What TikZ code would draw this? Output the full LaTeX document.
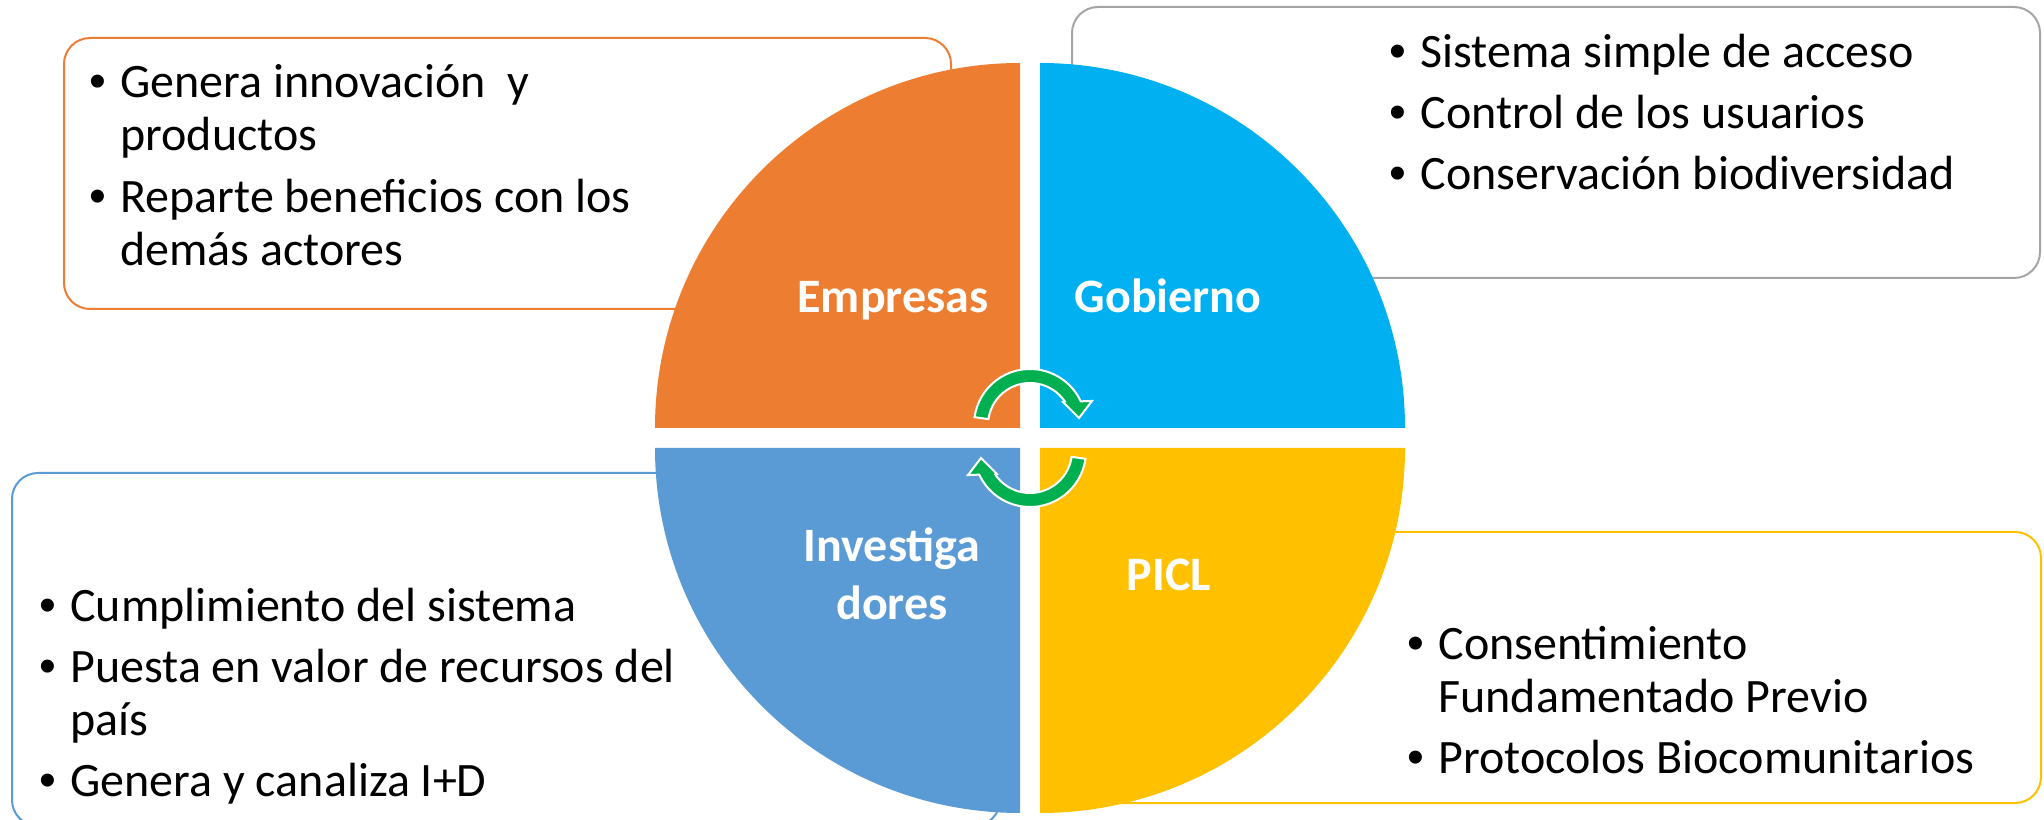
\documentclass[tikz,border=0pt]{standalone}
\usepackage{fontspec}
\setmainfont{Carlito}
\newfontfamily\bulfont{Liberation Sans}
\usepackage{tikz}
\definecolor{empOrange}{HTML}{ED7D31}
\definecolor{gobBlue}{HTML}{00B0F0}
\definecolor{invBlue}{HTML}{5B9BD5}
\definecolor{piclYellow}{HTML}{FFC000}
\definecolor{boxGray}{HTML}{A5A5A5}
\definecolor{arrGreen}{HTML}{00B050}
\newcommand{\bul}{\makebox[15.5pt][l]{\bulfont•}}
\newcommand{\ind}{\hspace*{15.5pt}}

\begin{document}
\begin{tikzpicture}[x=0.5pt,y=0.5pt,
	infobox/.style={line width=1pt,rounded corners=13pt,fill=white},
	itemlist/.style={anchor=base west,inner sep=0pt,font=\fontsize{24}{26.5}\selectfont},
	quadlabel/.style={anchor=base,inner sep=0pt,text=white,font=\fontsize{24}{29}\selectfont\bfseries},
	cyclearrow/.style={fill=arrGreen,draw=white,line width=1pt}]
	\clip (0,0) rectangle (2044,819);
	\useasboundingbox (0,0) rectangle (2044,819);

	\draw[infobox,draw=empOrange] (64,510) rectangle (951,781);
	\draw[infobox,draw=boxGray] (1072,541) rectangle (2040,812);
	\draw[infobox,draw=invBlue] (12,-7) rectangle (1000,346);
	\draw[infobox,draw=piclYellow] (1090,16) rectangle (2041,287);

	\node[itemlist] (EmpText) at (89,721) {\begin{tabular}[t]{@{}l@{}}\bul Genera innovación\ \ y\\ \ind productos\\[4.5pt] \bul Reparte beneficios con los\\ \ind demás actores\end{tabular}};
	\node[itemlist] (GobText) at (1389,751) {\begin{tabular}[t]{@{}l@{}}\bul Sistema simple de acceso\\[4pt] \bul Control de los usuarios\\[4pt] \bul Conservación biodiversidad\end{tabular}};
	\node[itemlist] (InvText) at (39,197) {\begin{tabular}[t]{@{}l@{}}\bul Cumplimiento del sistema\\[4pt] \bul Puesta en valor de recursos del\\ \ind país\\[4pt] \bul Genera y canaliza I+D\end{tabular}};
	\node[itemlist] (PiclText) at (1407,159) {\begin{tabular}[t]{@{}l@{}}\bul Consentimiento\\ \ind Fundamentado Previo\\[4pt] \bul Protocolos Biocomunitarios\end{tabular}};

	\fill[empOrange] (1020,391) -- (1020,756) arc[start angle=90,end angle=180,radius=365] -- cycle;
	\fill[gobBlue] (1040,391) -- (1405,391) arc[start angle=0,end angle=90,radius=365] -- cycle;
	\fill[invBlue] (1020,371) -- (655,371) arc[start angle=180,end angle=270,radius=365] -- cycle;
	\fill[piclYellow] (1040,371) -- (1040,6) arc[start angle=270,end angle=360,radius=365] -- cycle;

	\node[quadlabel] (Empresas) at (893,506) {Empresas};
	\node[quadlabel] (Gobierno) at (1168,506) {Gobierno};
	\node[quadlabel] (Investigadores) at (892,257) {\begin{tabular}[t]{@{}c@{}}Investiga\\ dores\end{tabular}};
	\node[quadlabel] (PICL) at (1169,228) {PICL};

	\begin{scope}[shift={(1030,394)}]
		\filldraw[cyclearrow] (172:56) arc[start angle=172,end angle=25,radius=56] -- (21.2:66.5) -- (8.1:49.5) -- (34.9:40.2) -- (34:42) arc[start angle=34,end angle=172,radius=42] -- cycle;
	\end{scope}
	\begin{scope}[shift={(1030,368)},rotate=180]
		\filldraw[cyclearrow] (172:56) arc[start angle=172,end angle=25,radius=56] -- (21.2:66.5) -- (8.1:49.5) -- (34.9:40.2) -- (34:42) arc[start angle=34,end angle=172,radius=42] -- cycle;
	\end{scope}
\end{tikzpicture}
\end{document}
